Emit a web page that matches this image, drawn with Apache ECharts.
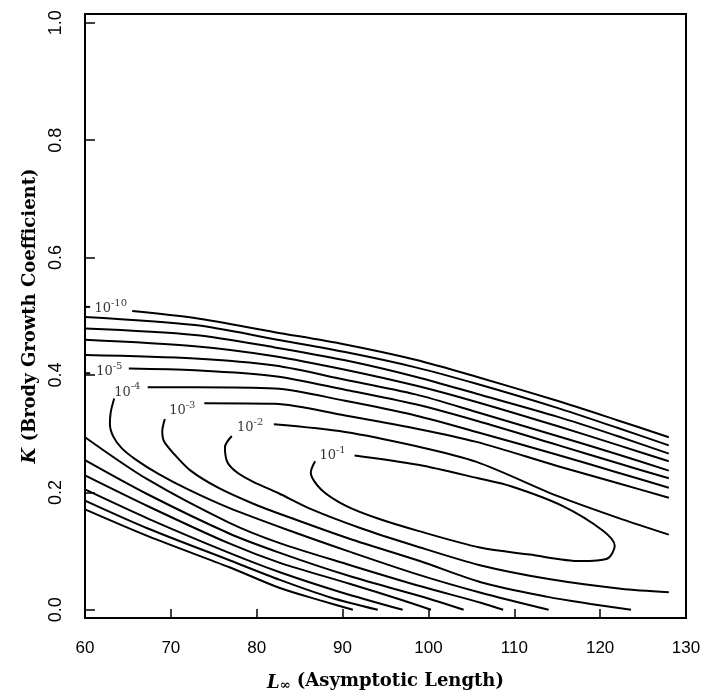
<!DOCTYPE html>
<html><head><meta charset="utf-8">
<script src="https://cdn.jsdelivr.net/npm/echarts@6/dist/echarts.min.js"></script>
<style>html,body{margin:0;padding:0;background:#fff}#c{width:715px;height:700px}</style>
</head><body><div id="c"></div>
<script>
// axis ticks
const xTicks = [60, 70, 80, 90, 100, 110, 120, 130];
const yTicks = [0, 0.2, 0.4, 0.6, 0.8, 1.0];

// contour 10^-1 (closed, broken at its label)
const c1 = [[86.8,0.253],[86.3,0.234],[87.5,0.205],[90.4,0.177],[94.2,0.155],[98.9,0.134],[106.0,0.106],[111.8,0.094],[117.7,0.083],[120.8,0.087],[121.7,0.109],[120.3,0.135],[115.6,0.177],[109.7,0.210],[105.8,0.224],[98.8,0.247],[91.4,0.263]];
// contour 10^-2
const c2Upper = [[82.0,0.316],[90.3,0.303],[98.5,0.279],[105.6,0.252],[115.0,0.194],[122.0,0.157],[128.0,0.128]];
const c2Lower = [[77.1,0.296],[76.3,0.277],[76.6,0.251],[77.8,0.233],[79.6,0.218],[82.5,0.199],[86.4,0.171],[92.3,0.138],[98.2,0.110],[106.0,0.076],[114.2,0.052],[122.4,0.036],[128.0,0.030]];
// contour 10^-3
const c3Upper = [[73.9,0.352],[82.1,0.351],[90.3,0.331],[98.5,0.309],[105.6,0.286],[115.0,0.245],[122.0,0.216],[128.0,0.191]];
const c3Lower = [[69.3,0.325],[69.0,0.304],[69.2,0.287],[70.4,0.265],[72.3,0.237],[75.5,0.208],[79.4,0.182],[83.7,0.158],[90.8,0.121],[99.0,0.083],[106.1,0.047],[113.9,0.022],[118.9,0.010],[123.6,0.000]];
// contour 10^-4
const c4Upper = [[67.3,0.379],[72.8,0.379],[82.1,0.377],[90.3,0.356],[98.5,0.331],[105.6,0.303],[115.0,0.264],[122.0,0.234],[128.0,0.208]];
const c4Lower = [[63.4,0.360],[63.0,0.337],[62.9,0.317],[63.3,0.295],[64.3,0.275],[66.0,0.255],[68.5,0.232],[72.0,0.205],[76.7,0.174],[83.8,0.135],[90.8,0.099],[99.0,0.059],[106.1,0.029],[114.0,0.000]];
// contour 10^-5
const c5Stub = [[60.0,0.403],[60.6,0.403]];
const c5Upper = [[65.1,0.411],[72.8,0.408],[82.1,0.398],[90.3,0.375],[98.5,0.350],[105.6,0.322],[115.0,0.281],[122.0,0.250],[128.0,0.224]];
const c5Lower = [[60.0,0.294],[67.3,0.222],[76.7,0.149],[82.6,0.114],[90.9,0.076],[99.1,0.040],[106.1,0.012],[108.7,0.000]];
// contour 10^-6
const c6Upper = [[60.0,0.434],[72.8,0.428],[82.1,0.416],[90.3,0.392],[98.5,0.367],[105.6,0.337],[115.0,0.296],[122.0,0.265],[128.0,0.237]];
const c6Lower = [[60.0,0.255],[67.4,0.196],[76.8,0.130],[82.7,0.097],[90.9,0.057],[99.1,0.023],[104.1,0.000]];
// contour 10^-7
const c7Upper = [[60.0,0.460],[72.8,0.449],[82.1,0.432],[90.3,0.409],[98.5,0.382],[105.6,0.354],[115.0,0.313],[122.0,0.281],[128.0,0.253]];
const c7Lower = [[60.0,0.229],[67.4,0.176],[76.8,0.113],[82.7,0.080],[90.9,0.044],[96.8,0.017],[100.3,0.000]];
// contour 10^-8
const c8Upper = [[60.0,0.479],[72.8,0.468],[82.1,0.447],[90.3,0.425],[98.5,0.397],[105.6,0.368],[115.0,0.329],[122.0,0.296],[128.0,0.266]];
const c8Lower = [[60.0,0.205],[67.4,0.155],[76.8,0.097],[82.7,0.064],[89.8,0.030],[97.0,0.000]];
// contour 10^-9
const c9Upper = [[60.0,0.499],[72.8,0.485],[82.1,0.461],[90.3,0.439],[98.5,0.413],[105.6,0.385],[115.0,0.344],[122.0,0.310],[128.0,0.280]];
const c9Lower = [[60.0,0.186],[67.4,0.138],[76.9,0.084],[82.7,0.051],[88.6,0.021],[94.1,0.000]];
// contour 10^-10
const c10Stub = [[60.0,0.516],[60.6,0.516]];
const c10Upper = [[65.5,0.509],[72.8,0.497],[82.1,0.473],[90.3,0.452],[98.5,0.426],[105.6,0.397],[115.0,0.356],[122.0,0.323],[128.0,0.294]];
const c10Lower = [[60.0,0.171],[67.4,0.125],[76.9,0.072],[82.7,0.037],[87.4,0.016],[91.2,0.000]];

// contour labels (exponent, anchor position)
const labelExp = ['-10', '-5', '-4', '-3', '-2', '-1'];
const labelX = [61.1, 61.3, 63.4, 69.8, 77.7, 87.3];
const labelY = [0.516, 0.409, 0.374, 0.343, 0.313, 0.266];

const segments = [c1, c2Upper, c2Lower, c3Upper, c3Lower, c4Upper, c4Lower,
  c5Stub, c5Upper, c5Lower, c6Upper, c6Lower, c7Upper, c7Lower,
  c8Upper, c8Lower, c9Upper, c9Lower, c10Stub, c10Upper, c10Lower];

const series = segments.map(seg => ({
  type: 'line', data: seg, showSymbol: false, smooth: 0.3, silent: true,
  lineStyle: { color: '#000', width: 2 }, animation: false
}));
series.push({
  type: 'scatter', symbolSize: 0, silent: true, animation: false,
  data: labelExp.map((e, i) => [labelX[i], labelY[i], e]),
  label: {
    show: true, position: 'right', distance: 0,
    formatter: p => '{b|10}{s|' + p.value[2] + '}',
    rich: {
      b: { fontFamily: 'DejaVu Serif', fontSize: 13, color: '#000', lineHeight: 17, verticalAlign: 'bottom' },
      s: { fontFamily: 'DejaVu Serif', fontSize: 10, color: '#000', lineHeight: 10, verticalAlign: 'top' }
    }
  }
});

const chart = echarts.init(document.getElementById('c'), null, { renderer: 'canvas' });
chart.setOption({
  animation: false,
  backgroundColor: '#fff',
  grid: { left: 85, right: 29, top: 14, bottom: 82, show: true, borderColor: '#000', borderWidth: 2 },
  xAxis: {
    type: 'value', min: 60, max: 130, interval: 10,
    axisLine: { show: true, onZero: false, lineStyle: { color: '#000', width: 2 } },
    axisTick: { show: true, inside: true, length: 9, lineStyle: { color: '#000', width: 1.5 } },
    axisLabel: { color: '#000', fontFamily: 'Liberation Sans', fontSize: 17, margin: 22 },
    splitLine: { show: false },
    name: '{i|L}{sub|∞} (Asymptotic Length)',
    nameLocation: 'middle', nameGap: 52,
    nameTextStyle: {
      fontFamily: 'DejaVu Serif', fontWeight: 'bold', fontSize: 18, color: '#000',
      rich: {
        i: { fontFamily: 'DejaVu Serif', fontWeight: 'bold', fontStyle: 'italic', fontSize: 18, color: '#000', lineHeight: 22, verticalAlign: 'bottom' },
        sub: { fontFamily: 'DejaVu Serif', fontWeight: 'bold', fontSize: 13, color: '#000', lineHeight: 14, verticalAlign: 'bottom' }
      }
    }
  },
  yAxis: {
    type: 'value', min: -0.014, max: 1.015,
    axisLine: { show: true, onZero: false, lineStyle: { color: '#000', width: 2 } },
    axisTick: { show: true, inside: true, length: 10, customValues: yTicks, lineStyle: { color: '#000', width: 1.5 } },
    axisLabel: { color: '#000', fontFamily: 'Liberation Sans', fontSize: 18, margin: 20, rotate: 90,
      customValues: yTicks, formatter: v => v.toFixed(1) },
    splitLine: { show: false },
    name: '{i|K} (Brody Growth Coefficient)',
    nameLocation: 'middle', nameGap: 40,
    nameTextStyle: {
      fontFamily: 'DejaVu Serif', fontWeight: 'bold', fontSize: 18, color: '#000',
      rich: {
        i: { fontFamily: 'DejaVu Serif', fontWeight: 'bold', fontStyle: 'italic', fontSize: 18, color: '#000' }
      }
    }
  },
  series: series
});
</script>
</body></html>
